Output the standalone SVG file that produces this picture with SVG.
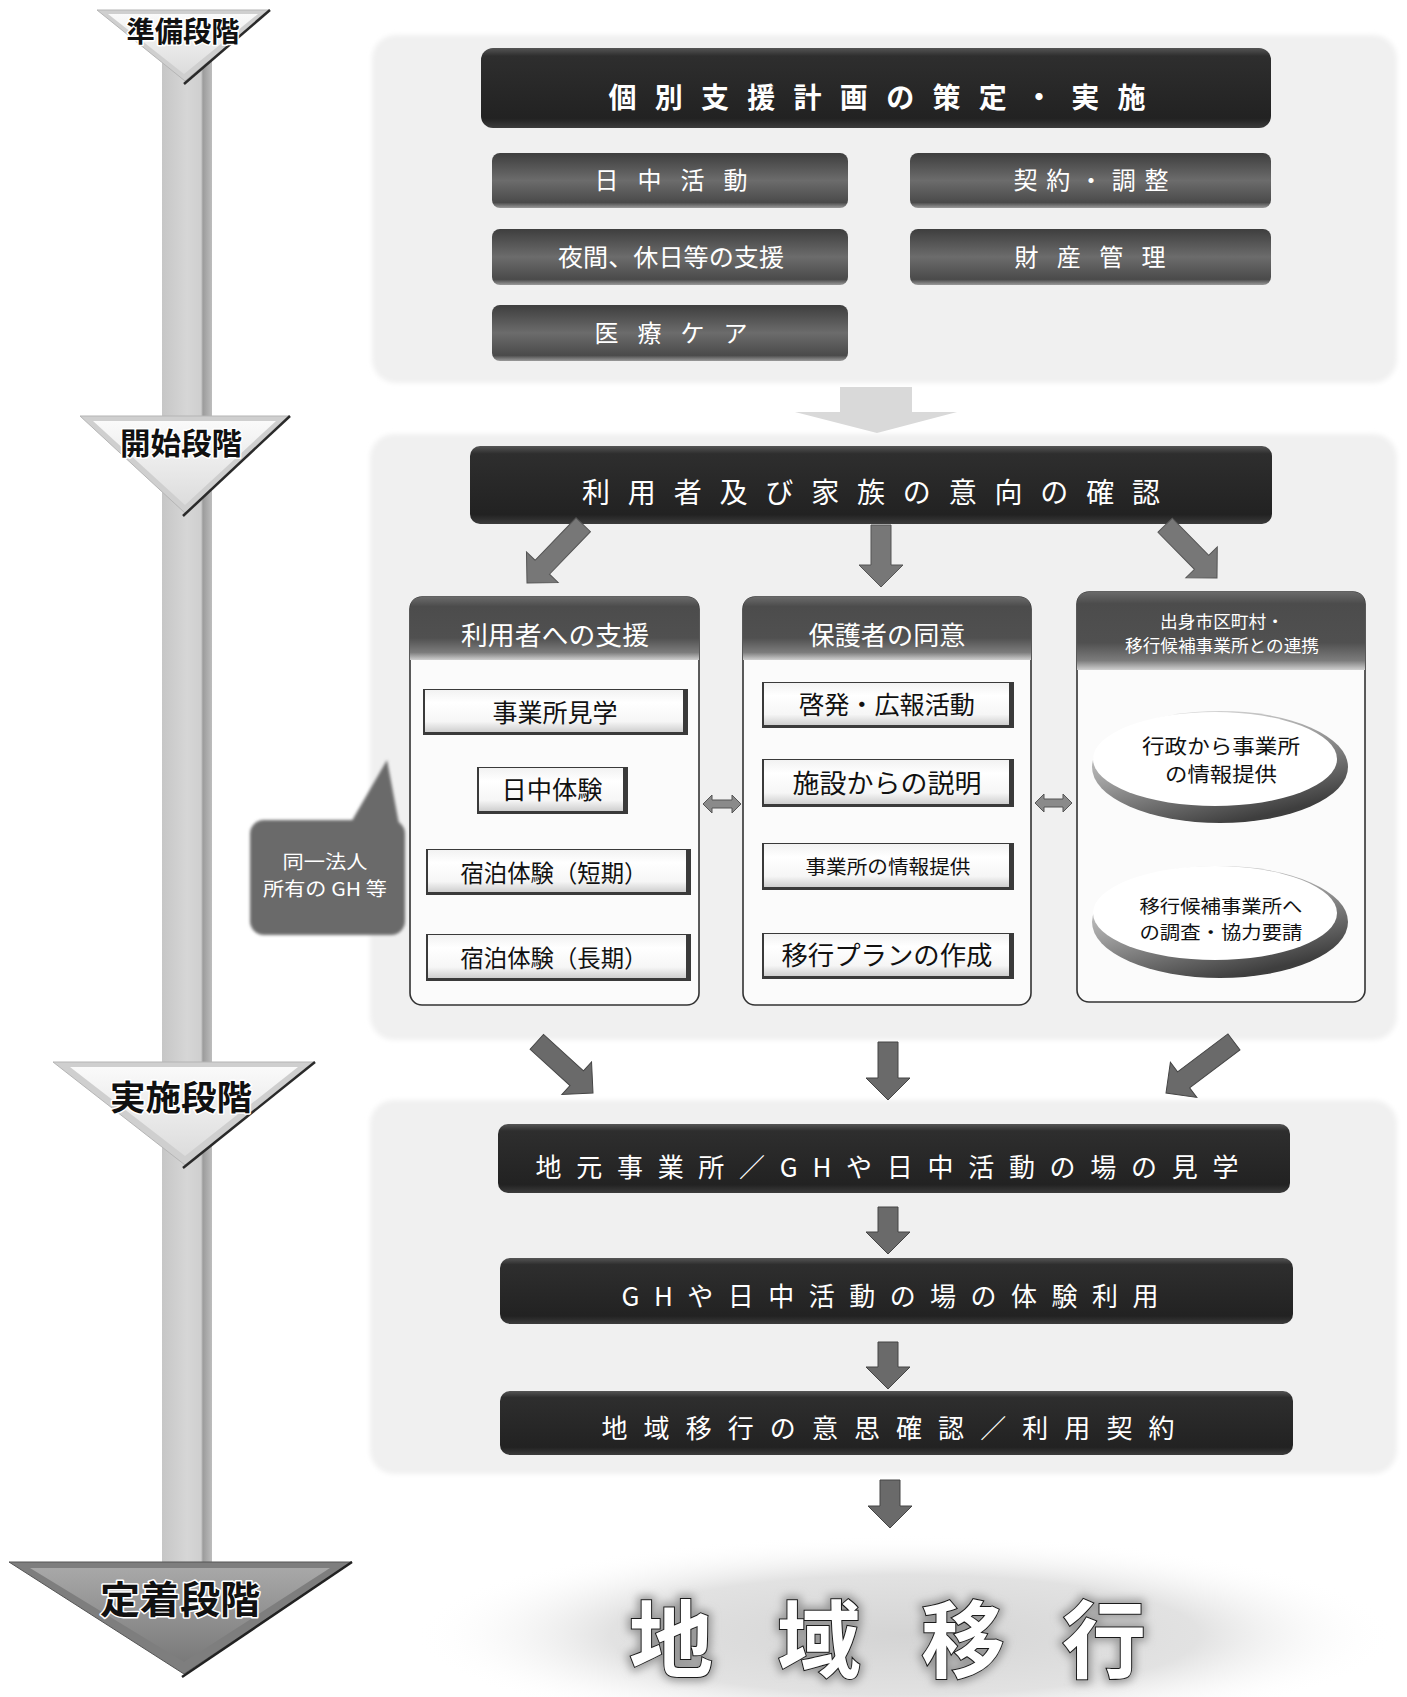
<svg xmlns="http://www.w3.org/2000/svg" width="1407" height="1697" viewBox="0 0 1407 1697">
<style>
text{font-family:"Noto Sans CJK JP","Noto Sans",sans-serif;text-anchor:middle}
.wt{fill:#fff}
.bk{fill:#111}
.stage{font-weight:bold;fill:#111;stroke:#fff;stroke-width:3;paint-order:stroke;stroke-linejoin:round}
.panel{fill:#f0f0f0;filter:url(#soft)}
.dark{fill:url(#gDark)}
.mid{fill:url(#gMid)}
.col{fill:#fbfbfb;stroke:#333;stroke-width:1.6}
.hdr{fill:url(#gHdr)}
.wbase{fill:#3a3a3a}
.wface{fill:url(#gWhite)}
.arr{fill:#777;stroke:#555;stroke-width:1}
.arr2{fill:#6a6a6a;stroke:#444;stroke-width:1}
.dbl{fill:#8a8a8a;stroke:#555;stroke-width:1}
.ringout{fill:url(#gRing)}
.ringin{fill:#fff}
</style>
<defs>
<filter id="soft" x="-5%" y="-5%" width="110%" height="110%"><feGaussianBlur stdDeviation="2.5"/></filter>
<filter id="blur1" x="-10%" y="-10%" width="120%" height="120%"><feGaussianBlur stdDeviation="1.5"/></filter>
<filter id="halo" x="-20%" y="-20%" width="140%" height="140%"><feGaussianBlur stdDeviation="4"/></filter>
<linearGradient id="gDark" x1="0" y1="0" x2="0" y2="1">
<stop offset="0" stop-color="#555"/><stop offset="0.1" stop-color="#2e2e2e"/><stop offset="0.88" stop-color="#222"/><stop offset="1" stop-color="#3c3c3c"/>
</linearGradient>
<linearGradient id="gMid" x1="0" y1="0" x2="0" y2="1">
<stop offset="0" stop-color="#3e3e3e"/><stop offset="0.5" stop-color="#6c6c6c"/><stop offset="0.9" stop-color="#4a4a4a"/><stop offset="1" stop-color="#9a9a9a"/>
</linearGradient>
<linearGradient id="gHdr" x1="0" y1="0" x2="0" y2="1">
<stop offset="0" stop-color="#6a6a6a"/><stop offset="0.15" stop-color="#4c4c4c"/><stop offset="0.65" stop-color="#505050"/><stop offset="0.88" stop-color="#7c7c7c"/><stop offset="1" stop-color="#cfcfcf"/>
</linearGradient>
<linearGradient id="gWhite" x1="0" y1="0" x2="0" y2="1">
<stop offset="0" stop-color="#f2f2f2"/><stop offset="0.3" stop-color="#ffffff"/><stop offset="0.75" stop-color="#f6f6f6"/><stop offset="1" stop-color="#cfcfcf"/>
</linearGradient>
<linearGradient id="gRing" x1="0" y1="0" x2="0.55" y2="1">
<stop offset="0" stop-color="#f4f4f4"/><stop offset="0.5" stop-color="#a0a0a0"/><stop offset="1" stop-color="#3e3e3e"/>
</linearGradient>
<linearGradient id="gBar" x1="0" y1="0" x2="1" y2="0">
<stop offset="0" stop-color="#c6c6c6"/><stop offset="0.5" stop-color="#d6d6d6"/><stop offset="0.78" stop-color="#cfcfcf"/><stop offset="0.82" stop-color="#9c9c9c"/><stop offset="1" stop-color="#bdbdbd"/>
</linearGradient>
<linearGradient id="gTri" x1="0" y1="0" x2="0" y2="1">
<stop offset="0" stop-color="#fafafa"/><stop offset="1" stop-color="#dcdcdc"/>
</linearGradient>
<linearGradient id="gTriDark" x1="0" y1="0" x2="0" y2="1">
<stop offset="0" stop-color="#a8a8a8"/><stop offset="1" stop-color="#7a7a7a"/>
</linearGradient>
<radialGradient id="gGlow" cx="0.5" cy="0.5" r="0.5">
<stop offset="0" stop-color="#d4d4d4"/><stop offset="0.6" stop-color="#e2e2e2"/><stop offset="1" stop-color="#fff" stop-opacity="0"/>
</radialGradient>
</defs>

<rect width="1407" height="1697" fill="#fff"/>

<!-- timeline -->
<g id="timeline">
<rect x="162" y="60" width="50" height="1505" fill="url(#gBar)"/>
</g>
<g id="stage-prep">
<polygon points="97,10 270,10 185,81" fill="#cfcfcf" stroke="#b5b5b5" stroke-width="1"/>
<polygon points="108,14 258,14 184,74" fill="url(#gTri)"/>
<line x1="270" y1="10" x2="184" y2="84" stroke="#2a2a2a" stroke-width="2.5"/>
<text class="stage" x="183" y="42" font-size="28" textLength="113" lengthAdjust="spacingAndGlyphs">準備段階</text>
</g>
<g id="stage-start">
<polygon points="80,416 290,416 185,513" fill="#cfcfcf" stroke="#b5b5b5" stroke-width="1"/>
<polygon points="93,421 276,421 185,505" fill="url(#gTri)"/>
<line x1="290" y1="416" x2="183" y2="516" stroke="#2a2a2a" stroke-width="2.5"/>
<text class="stage" x="181" y="454" font-size="30" textLength="122" lengthAdjust="spacingAndGlyphs">開始段階</text>
</g>
<g id="stage-impl">
<polygon points="53,1062 315,1062 185,1165" fill="#cfcfcf" stroke="#b5b5b5" stroke-width="1"/>
<polygon points="70,1067 298,1067 185,1156" fill="url(#gTri)"/>
<line x1="315" y1="1062" x2="183" y2="1168" stroke="#2a2a2a" stroke-width="2.5"/>
<text class="stage" x="181" y="1110" font-size="34" textLength="142" lengthAdjust="spacingAndGlyphs">実施段階</text>
</g>
<g id="stage-settle">
<polygon points="9,1562 352,1562 184,1674" fill="#7e7e7e" stroke="#555" stroke-width="1"/>
<polygon points="30,1568 330,1568 184,1662" fill="url(#gTriDark)"/>
<line x1="352" y1="1562" x2="182" y2="1677" stroke="#222" stroke-width="2.5"/>
<text class="stage" x="180" y="1613" font-size="38" textLength="160" lengthAdjust="spacingAndGlyphs">定着段階</text>
</g>

<!-- panel 1 -->
<rect class="panel" x="372" y="35" width="1025" height="348" rx="24"/>
<g id="plan">
<rect class="dark" x="481" y="48" width="790" height="80" rx="12"/>
<text class="wt" x="877" y="108" font-size="28" font-weight="bold" textLength="537" lengthAdjust="spacing">個別支援計画の策定・実施</text>
</g>
<g id="day">
<rect class="mid" x="492" y="153" width="356" height="55" rx="8"/>
<text class="wt" x="671" y="189" font-size="24" textLength="153" lengthAdjust="spacing">日中活動</text>
</g>
<g id="night">
<rect class="mid" x="492" y="229" width="356" height="56" rx="8"/>
<text class="wt" x="671" y="266" font-size="24" textLength="226" lengthAdjust="spacingAndGlyphs">夜間、休日等の支援</text>
</g>
<g id="medical">
<rect class="mid" x="492" y="305" width="356" height="56" rx="8"/>
<text class="wt" x="671" y="342" font-size="24" textLength="153" lengthAdjust="spacing">医療ケア</text>
</g>
<g id="contract">
<rect class="mid" x="910" y="153" width="361" height="55" rx="8"/>
<text class="wt" x="1091" y="189" font-size="24" textLength="155" lengthAdjust="spacing">契約・調整</text>
</g>
<g id="property">
<rect class="mid" x="910" y="229" width="361" height="56" rx="8"/>
<text class="wt" x="1090" y="266" font-size="24" textLength="151" lengthAdjust="spacing">財産管理</text>
</g>

<!-- panel 2 -->
<rect class="panel" x="370" y="434" width="1027" height="606" rx="24"/>
<g id="intent">
<rect class="dark" x="470" y="446" width="802" height="78" rx="10"/>
<text class="wt" x="871" y="503" font-size="28" textLength="578" lengthAdjust="spacing">利用者及び家族の意向の確認</text>
</g>

<g id="col-user">
<rect class="col" x="410" y="597" width="289" height="408" rx="12"/>
<path class="hdr" d="M410,660 V609 Q410,597 422,597 H687 Q699,597 699,609 V660 Z"/>
<text class="wt" x="555" y="645" font-size="26" textLength="188" lengthAdjust="spacingAndGlyphs">利用者への支援</text>
</g>
<g id="visit">
<rect class="wbase" x="423" y="689" width="265" height="46"/>
<rect class="wface" x="425" y="690" width="258" height="42"/>
<text class="bk" x="555" y="722" font-size="25" textLength="125" lengthAdjust="spacingAndGlyphs">事業所見学</text>
</g>
<g id="daytrial">
<rect class="wbase" x="477" y="767" width="151" height="47"/>
<rect class="wface" x="479" y="768" width="144" height="43"/>
<text class="bk" x="552" y="799" font-size="25" textLength="101" lengthAdjust="spacingAndGlyphs">日中体験</text>
</g>
<g id="stay-short">
<rect class="wbase" x="426" y="849" width="265" height="46"/>
<rect class="wface" x="428" y="850" width="258" height="42"/>
<text class="bk" x="554" y="882" font-size="24" textLength="187" lengthAdjust="spacingAndGlyphs">宿泊体験（短期）</text>
</g>
<g id="stay-long">
<rect class="wbase" x="426" y="934" width="265" height="47"/>
<rect class="wface" x="428" y="935" width="258" height="43"/>
<text class="bk" x="554" y="967" font-size="24" textLength="187" lengthAdjust="spacingAndGlyphs">宿泊体験（長期）</text>
</g>

<g id="col-guardian">
<rect class="col" x="743" y="597" width="288" height="408" rx="12"/>
<path class="hdr" d="M743,660 V609 Q743,597 755,597 H1019 Q1031,597 1031,609 V660 Z"/>
<text class="wt" x="887" y="645" font-size="26" textLength="157" lengthAdjust="spacingAndGlyphs">保護者の同意</text>
</g>
<g id="pr">
<rect class="wbase" x="762" y="682" width="252" height="46"/>
<rect class="wface" x="764" y="683" width="245" height="42"/>
<text class="bk" x="887" y="714" font-size="25" textLength="176" lengthAdjust="spacingAndGlyphs">啓発・広報活動</text>
</g>
<g id="explain">
<rect class="wbase" x="762" y="759" width="252" height="48"/>
<rect class="wface" x="764" y="760" width="245" height="44"/>
<text class="bk" x="887" y="793" font-size="26" textLength="189" lengthAdjust="spacingAndGlyphs">施設からの説明</text>
</g>
<g id="info">
<rect class="wbase" x="762" y="843" width="252" height="47"/>
<rect class="wface" x="764" y="844" width="245" height="43"/>
<text class="bk" x="888" y="874" font-size="19" textLength="165" lengthAdjust="spacingAndGlyphs">事業所の情報提供</text>
</g>
<g id="plan-make">
<rect class="wbase" x="762" y="933" width="252" height="46"/>
<rect class="wface" x="764" y="934" width="245" height="42"/>
<text class="bk" x="887" y="965" font-size="26" textLength="211" lengthAdjust="spacingAndGlyphs">移行プランの作成</text>
</g>

<g id="col-city">
<rect class="col" x="1077" y="592" width="288" height="410" rx="12"/>
<path class="hdr" d="M1077,670 V604 Q1077,592 1089,592 H1353 Q1365,592 1365,604 V670 Z"/>
<text class="wt" x="1222" y="628" font-size="17" textLength="124" lengthAdjust="spacingAndGlyphs">出身市区町村・</text>
<text class="wt" x="1222" y="652" font-size="17" textLength="194" lengthAdjust="spacingAndGlyphs">移行候補事業所との連携</text>
</g>
<g id="gov-info">
<ellipse class="ringout" cx="1220" cy="767" rx="128" ry="56"/>
<ellipse class="ringin" cx="1215" cy="759" rx="122" ry="47"/>
<text class="bk" x="1221" y="754" font-size="20" textLength="158" lengthAdjust="spacingAndGlyphs">行政から事業所</text>
<text class="bk" x="1221" y="782" font-size="20" textLength="112" lengthAdjust="spacingAndGlyphs">の情報提供</text>
</g>
<g id="request">
<ellipse class="ringout" cx="1220" cy="922" rx="128" ry="56"/>
<ellipse class="ringin" cx="1215" cy="913" rx="122" ry="47"/>
<text class="bk" x="1221" y="913" font-size="18" textLength="163" lengthAdjust="spacingAndGlyphs">移行候補事業所へ</text>
<text class="bk" x="1221" y="939" font-size="18" textLength="163" lengthAdjust="spacingAndGlyphs">の調査・協力要請</text>
</g>

<g id="callout">
<g filter="url(#blur1)" fill="#6a6a6a">
<rect x="250" y="820" width="155" height="115" rx="14"/>
<polygon points="350,824 387,760 399,824"/>
</g>
<text class="wt" x="325" y="869" font-size="19" textLength="85" lengthAdjust="spacingAndGlyphs">同一法人</text>
<text class="wt" x="325" y="896" font-size="19" textLength="124" lengthAdjust="spacingAndGlyphs">所有の GH 等</text>
</g>

<!-- panel 3 -->
<rect class="panel" x="370" y="1100" width="1027" height="374" rx="24"/>
<g id="local-visit">
<rect class="dark" x="498" y="1124" width="792" height="69" rx="10"/>
<text class="wt" x="887" y="1177" font-size="26" textLength="703" lengthAdjust="spacing">地元事業所／GHや日中活動の場の見学</text>
</g>
<g id="trial-use">
<rect class="dark" x="500" y="1258" width="793" height="66" rx="10"/>
<text class="wt" x="890" y="1306" font-size="26" textLength="537" lengthAdjust="spacing">GHや日中活動の場の体験利用</text>
</g>
<g id="confirm">
<rect class="dark" x="500" y="1391" width="793" height="64" rx="10"/>
<text class="wt" x="888" y="1438" font-size="26" textLength="573" lengthAdjust="spacing">地域移行の意思確認／利用契約</text>
</g>

<g id="goal">
<ellipse cx="905" cy="1635" rx="490" ry="100" fill="url(#gGlow)"/>
<g font-size="84" font-weight="bold" filter="url(#halo)" fill="#999" stroke="#999" stroke-width="8">
<text x="671" y="1671">地</text><text x="819" y="1671">域</text><text x="963" y="1671">移</text><text x="1104" y="1671">行</text>
</g>
<g font-size="84" font-weight="bold" fill="#fff" stroke="#1a1a1a" stroke-width="2" paint-order="stroke">
<text x="671" y="1671">地</text><text x="819" y="1671">域</text><text x="963" y="1671">移</text><text x="1104" y="1671">行</text>
</g>
</g>

<!-- connectors -->
<g id="connectors">
<polygon points="840,387 912,387 912,412 957,412 877,433 795,412 840,412" fill="#d9d9d9"/>
<path class="arr" transform="translate(527,583) rotate(44)" d="M-10,-81 H10 V-22 H22 L0,0 L-22,-22 H-10 Z"/>
<path class="arr" transform="translate(881,587)" d="M-10,-62 H10 V-22 H22 L0,0 L-22,-22 H-10 Z"/>
<path class="arr" transform="translate(1217,578) rotate(-44.5)" d="M-10,-74 H10 V-22 H22 L0,0 L-22,-22 H-10 Z"/>
<path class="dbl" d="M703,804 L712,795 V800 H732 V795 L741,804 L732,813 V808 H712 V813 Z"/>
<path class="dbl" d="M1035,803 L1044,794 V799 H1063 V794 L1072,803 L1063,812 V807 H1044 V812 Z"/>
<path class="arr2" transform="translate(593,1093) rotate(-47.7)" d="M-10,-76 H10 V-22 H22 L0,0 L-22,-22 H-10 Z"/>
<path class="arr2" transform="translate(888,1100)" d="M-10,-58 H10 V-22 H22 L0,0 L-22,-22 H-10 Z"/>
<path class="arr2" transform="translate(1166,1093) rotate(53.1)" d="M-10,-85 H10 V-22 H22 L0,0 L-22,-22 H-10 Z"/>
<path class="arr2" transform="translate(888,1254)" d="M-10,-47 H10 V-22 H22 L0,0 L-22,-22 H-10 Z"/>
<path class="arr2" transform="translate(888,1389)" d="M-10,-47 H10 V-22 H22 L0,0 L-22,-22 H-10 Z"/>
<path class="arr2" transform="translate(890,1528)" d="M-10,-48 H10 V-22 H22 L0,0 L-22,-22 H-10 Z"/>
</g>
</svg>
